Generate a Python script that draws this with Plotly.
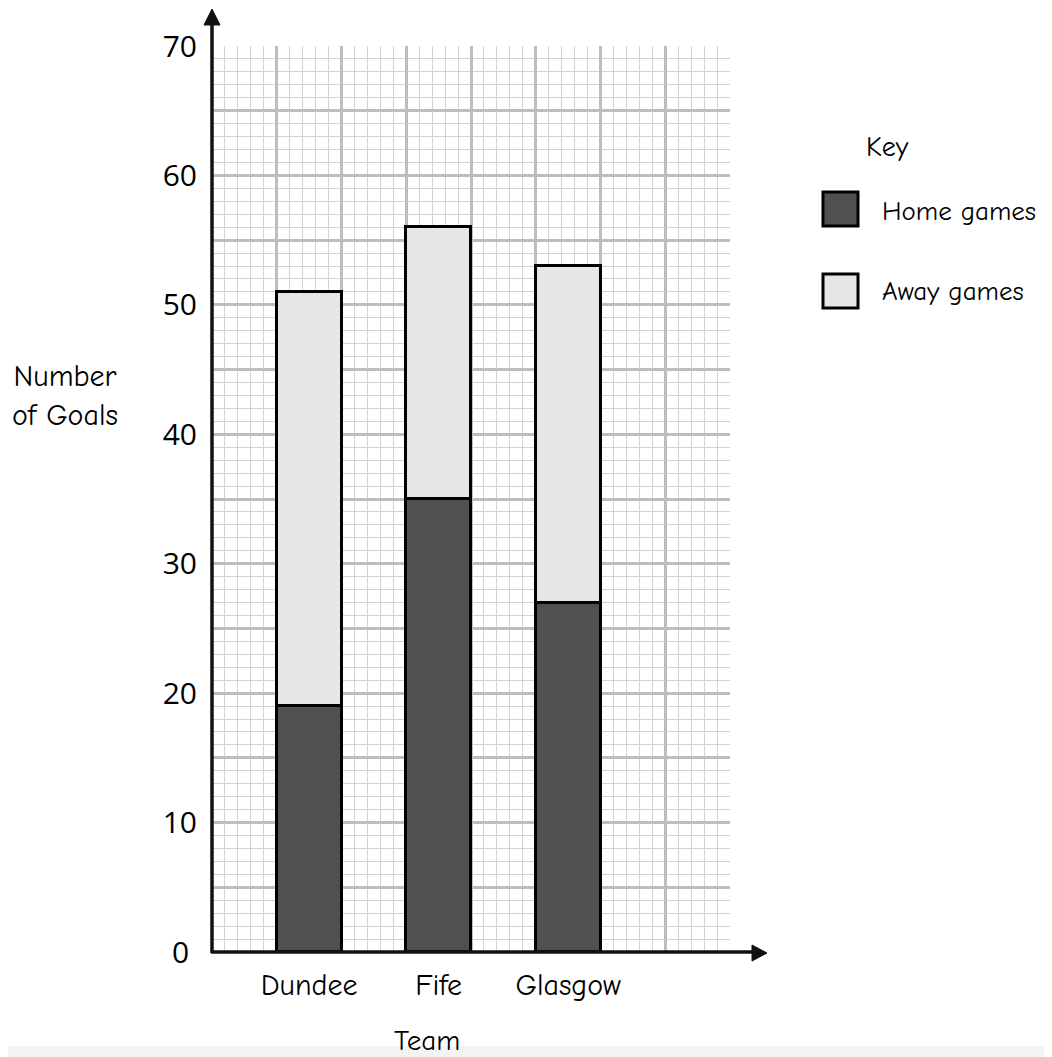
import plotly.graph_objects as go

teams = ["Dundee", "Fife", "Glasgow"]
home_goals = [19, 35, 27]
away_goals = [32, 21, 26]
y_tick_values = [0, 5, 10, 15, 20, 25, 30, 35, 40, 45, 50, 55, 60, 65, 70]
y_tick_labels = ["0\u00a0", "", "10", "", "20", "", "30", "", "40", "", "50", "", "60", "", "70"]

# bar centres on the squared-paper grid (one empty column between bars)
positions = [1.5 + 2 * i for i in range(len(teams))]

FONT = "Comic Sans MS, Comic Neue, Open Sans, sans-serif"
NUMFONT = "Open Sans, Liberation Sans, sans-serif"

OFF = 8  # page body margin
W, H = 1052 - OFF, 1057 - OFF
L, R, T, B = 212 - OFF, 322, 46 - OFF, 105
PW, PH = W - L - R, H - T - B
PL, PB = L + OFF, T + OFF + PH  # plot-area left / bottom in page pixels


def px(x):
    return (x - PL) / PW


def py(y):
    return (PB - y) / PH


fig = go.Figure()
fig.add_trace(go.Bar(
    x=positions, y=home_goals, name="Home games", width=1,
    marker=dict(color="#505050", line=dict(color="black", width=3)),
    showlegend=False, xaxis="x", yaxis="y",
))
fig.add_trace(go.Bar(
    x=positions, y=away_goals, name="Away games", width=1,
    marker=dict(color="#e6e6e6", line=dict(color="black", width=3)),
    showlegend=False, xaxis="x", yaxis="y",
))

shapes = []
# background strip at the bottom
shapes.append(dict(type="rect", xref="paper", yref="paper", x0=px(0), x1=px(1060),
                   y0=py(1060), y1=py(1046), fillcolor="#f3f3f3", line=dict(width=0), layer="below"))
# y axis with arrow
shapes.append(dict(type="line", xref="paper", yref="paper", x0=0, x1=0, y0=py(953), y1=py(24),
                   line=dict(color="#111", width=3.5), layer="above"))
shapes.append(dict(type="path", xref="paper", yref="paper",
                   path=f"M {px(212)},{py(9)} L {px(204)},{py(25)} L {px(220)},{py(25)} Z",
                   fillcolor="#111", line=dict(color="#111", width=1), layer="above"))
# x axis with arrow
shapes.append(dict(type="line", xref="paper", yref="paper", x0=px(211), x1=px(753), y0=0, y1=0,
                   line=dict(color="#111", width=3.5), layer="above"))
shapes.append(dict(type="path", xref="paper", yref="paper",
                   path=f"M {px(767)},{py(953)} L {px(752)},{py(945)} L {px(752)},{py(961)} Z",
                   fillcolor="#111", line=dict(color="#111", width=1), layer="above"))
# key boxes
shapes.append(dict(type="rect", xref="paper", yref="paper", x0=px(823), x1=px(858),
                   y0=py(226), y1=py(192), fillcolor="#505050", line=dict(color="black", width=3)))
shapes.append(dict(type="rect", xref="paper", yref="paper", x0=px(823), x1=px(858),
                   y0=py(308), y1=py(274), fillcolor="#e6e6e6", line=dict(color="black", width=3)))

annotations = [
    dict(text="Key", x=px(887), y=py(147), xref="paper", yref="paper", showarrow=False,
         xanchor="center", yanchor="middle", font=dict(size=28)),
    dict(text="Home games", x=px(880), y=py(211), xref="paper", yref="paper", showarrow=False,
         xanchor="left", yanchor="middle", font=dict(size=27)),
    dict(text="Away games", x=px(880), y=py(291), xref="paper", yref="paper", showarrow=False,
         xanchor="left", yanchor="middle", font=dict(size=27)),
    dict(text="Number<br>of Goals", x=px(65), y=py(396), xref="paper", yref="paper", showarrow=False,
         xanchor="center", yanchor="middle", align="center", font=dict(size=30)),
    dict(text="Team", x=px(427), y=py(1040), xref="paper", yref="paper", showarrow=False,
         xanchor="center", yanchor="middle", font=dict(size=29)),
]

fig.update_layout(
    width=W, height=H,
    margin=dict(l=L, r=R, t=T, b=B, pad=0),
    paper_bgcolor="white", plot_bgcolor="white",
    barmode="stack", bargap=0,
    font=dict(family=FONT, color="black", size=29),
    shapes=shapes, annotations=annotations,
    xaxis=dict(
        range=[0, 8], dtick=1, tick0=0, showticklabels=False, ticks="",
        showgrid=True, gridcolor="#bdbdbd", gridwidth=2.5, zeroline=False, showline=False,
        minor=dict(dtick=0.2, showgrid=True, gridcolor="#d2d2d2", gridwidth=1.3),
        fixedrange=True,
    ),
    xaxis2=dict(
        overlaying="x", matches="x", side="bottom", range=[0, 8],
        tickmode="array", tickvals=positions, ticktext=teams, ticks="",
        showgrid=False, zeroline=False, showline=False, ticklabelstandoff=12,
        tickfont=dict(family=FONT, size=30),
    ),
    yaxis=dict(
        range=[0, 70], tickmode="array", tickvals=y_tick_values, ticktext=y_tick_labels,
        ticks="", ticklabelstandoff=14, tickfont=dict(family=NUMFONT, size=30),
        showgrid=True, gridcolor="#bdbdbd", gridwidth=2.5, zeroline=False, showline=False,
        minor=dict(dtick=1, showgrid=True, gridcolor="#d2d2d2", gridwidth=1.3),
        fixedrange=True,
    ),
)
# invisible helper trace so the label axis is rendered
fig.add_trace(go.Scatter(x=positions, y=[0] * len(teams), xaxis="x2", yaxis="y",
                         mode="markers", marker=dict(opacity=0), showlegend=False, hoverinfo="skip"))

fig.write_html("out.html")
